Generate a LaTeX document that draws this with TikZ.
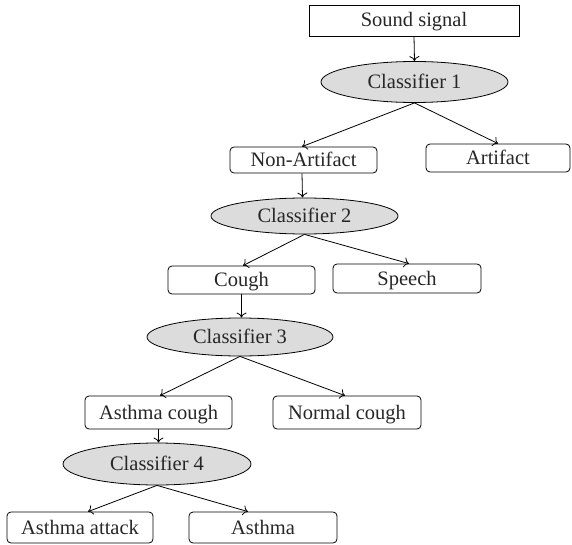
\documentclass[tikz,border=0pt]{standalone}
\usepackage{fontspec}
\setmainfont{Liberation Serif}
\usetikzlibrary{arrows.meta,shapes.geometric}
\definecolor{ellgray}{HTML}{DCDCDC}
\tikzset{
  every node/.style={font=\fontsize{20.5}{22}\selectfont, inner sep=0pt, text=black!85, text height=15pt, text depth=2pt},
  sbox/.style={draw, line width=0.8pt, rectangle, rounded corners=4pt},
  sqbox/.style={draw, line width=0.8pt, rectangle},
  cls/.style={draw, line width=0.8pt, ellipse, fill=ellgray},
  arr/.style={draw, line width=0.8pt, -{To[length=5pt,width=10pt]}}
}
\begin{document}
\begin{tikzpicture}[x=1pt,y=-1pt]
\useasboundingbox (0,0) rectangle (572,545);
\node[sqbox, minimum width=210pt, minimum height=31pt] (ss) at (414,20.5) {Sound signal};
\node[cls, minimum width=187pt, minimum height=41pt] (c1) at (414.5,82) {Classifier 1};
\node[sbox, minimum width=147pt, minimum height=26pt] (na) at (303.5,160) {Non-Artifact};
\node[sbox, minimum width=144pt, minimum height=28pt] (ar) at (498,158) {Artifact};
\node[cls, minimum width=187pt, minimum height=36pt] (c2) at (304.5,216) {Classifier 2};
\node[sbox, minimum width=147pt, minimum height=28pt] (co) at (241.5,280) {Cough};
\node[sbox, minimum width=148pt, minimum height=29pt] (sp) at (407,278.5) {Speech};
\node[cls, minimum width=186pt, minimum height=38pt] (c3) at (240,337) {Classifier 3};
\node[sbox, minimum width=147pt, minimum height=33pt] (ac) at (158.5,412.5) {Asthma cough};
\node[sbox, minimum width=148pt, minimum height=33pt] (nc) at (347,412.5) {Normal cough};
\node[cls, minimum width=188pt, minimum height=42pt] (c4) at (157,464) {Classifier 4};
\node[sbox, minimum width=146pt, minimum height=31pt] (at) at (80,527.5) {Asthma attack};
\node[sbox, minimum width=148pt, minimum height=31pt] (as) at (263,527.5) {Asthma};
\draw[arr] (ss.south) -- (c1.north);
\draw[arr] (c1.south) -- ([xshift=-1.5pt]na.north);
\draw[arr] (c1.south) -- (ar.north);
\draw[arr] (na.north |- na.south) ++(-1.5,0) -- ([xshift=-2pt]c2.north);
\draw[arr] (c2.south) -- ([xshift=1.5pt]co.north);
\draw[arr] (c2.south) -- ([xshift=2pt]sp.north);
\draw[arr] (co.south) -- (c3.north -| co.south);
\draw[arr] (c3.south) -- ([xshift=1.5pt]ac.north);
\draw[arr] (c3.south) -- ([xshift=-2pt]nc.north);
\draw[arr] (ac.south) -- (c4.north -| ac.south);
\draw[arr] (c4.south) -- ([xshift=8pt]at.north);
\draw[arr] (c4.south) -- ([xshift=-15pt]as.north);
\end{tikzpicture}
\end{document}
